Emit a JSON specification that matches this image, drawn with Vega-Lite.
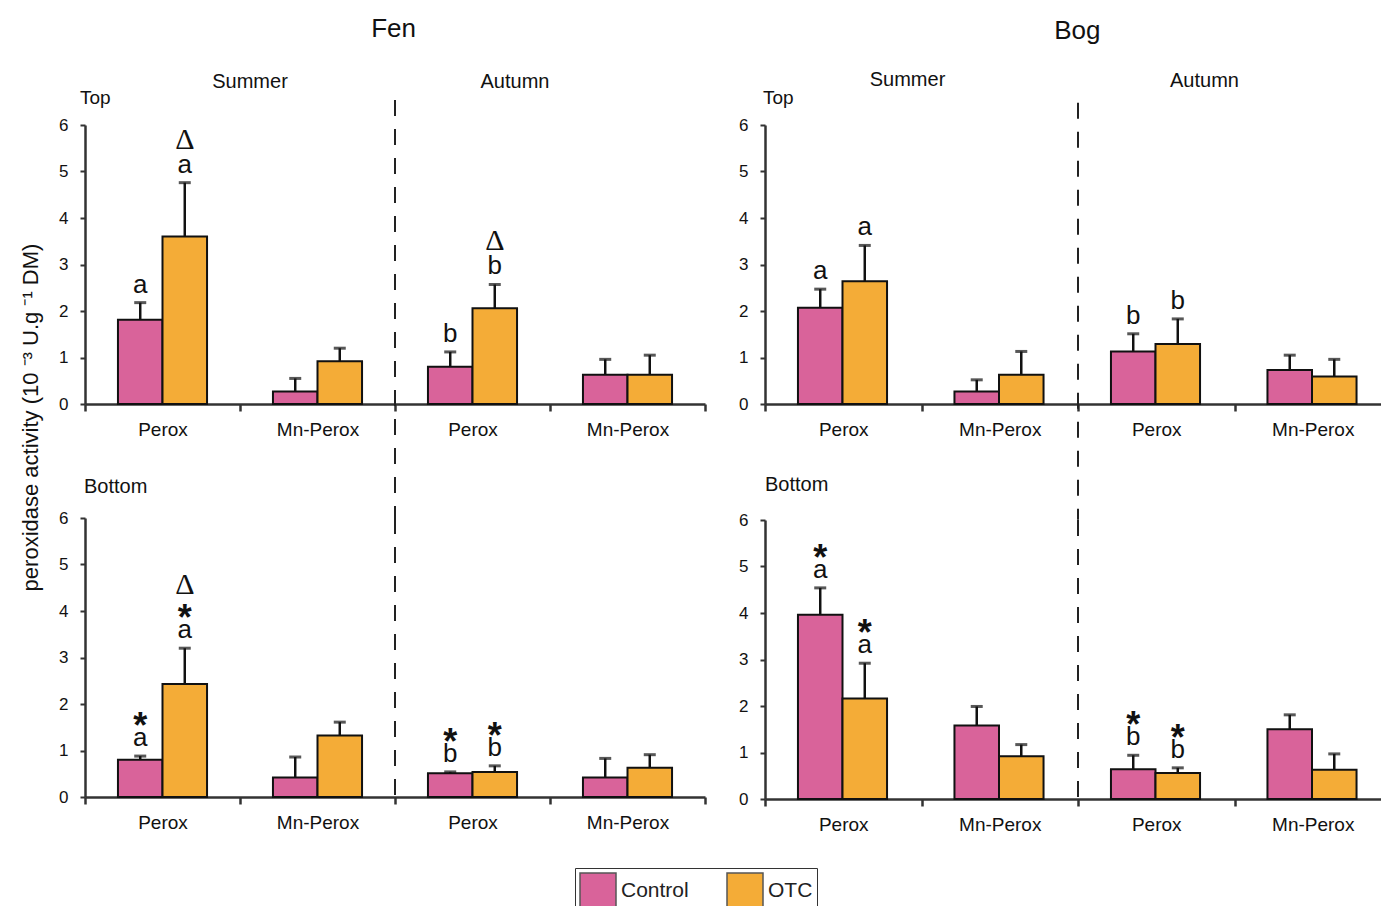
{
  "$schema": "https://vega.github.io/schema/vega-lite/v6.json",
  "padding": {"left": 19, "top": 16, "right": 0, "bottom": 0},
  "background": "white",
  "datasets": {
    "bars": [
      {"site":"Fen","depth":"Top","slot":"Summer|Perox","treatment":"Control","mean":1.81,"upper":2.18,"letter":"a","star":"","delta":""},
      {"site":"Fen","depth":"Top","slot":"Summer|Perox","treatment":"OTC","mean":3.6,"upper":4.76,"letter":"a","star":"","delta":"Δ"},
      {"site":"Fen","depth":"Top","slot":"Summer|Mn-Perox","treatment":"Control","mean":0.27,"upper":0.55,"letter":"","star":"","delta":""},
      {"site":"Fen","depth":"Top","slot":"Summer|Mn-Perox","treatment":"OTC","mean":0.92,"upper":1.2,"letter":"","star":"","delta":""},
      {"site":"Fen","depth":"Top","slot":"Autumn|Perox","treatment":"Control","mean":0.8,"upper":1.12,"letter":"b","star":"","delta":""},
      {"site":"Fen","depth":"Top","slot":"Autumn|Perox","treatment":"OTC","mean":2.06,"upper":2.57,"letter":"b","star":"","delta":"Δ"},
      {"site":"Fen","depth":"Top","slot":"Autumn|Mn-Perox","treatment":"Control","mean":0.63,"upper":0.96,"letter":"","star":"","delta":""},
      {"site":"Fen","depth":"Top","slot":"Autumn|Mn-Perox","treatment":"OTC","mean":0.63,"upper":1.05,"letter":"","star":"","delta":""},
      {"site":"Fen","depth":"Bottom","slot":"Summer|Perox","treatment":"Control","mean":0.8,"upper":0.88,"letter":"a","star":"*","delta":""},
      {"site":"Fen","depth":"Bottom","slot":"Summer|Perox","treatment":"OTC","mean":2.43,"upper":3.2,"letter":"a","star":"*","delta":"Δ"},
      {"site":"Fen","depth":"Bottom","slot":"Summer|Mn-Perox","treatment":"Control","mean":0.42,"upper":0.86,"letter":"","star":"","delta":""},
      {"site":"Fen","depth":"Bottom","slot":"Summer|Mn-Perox","treatment":"OTC","mean":1.32,"upper":1.61,"letter":"","star":"","delta":""},
      {"site":"Fen","depth":"Bottom","slot":"Autumn|Perox","treatment":"Control","mean":0.51,"upper":0.54,"letter":"b","star":"*","delta":""},
      {"site":"Fen","depth":"Bottom","slot":"Autumn|Perox","treatment":"OTC","mean":0.54,"upper":0.67,"letter":"b","star":"*","delta":""},
      {"site":"Fen","depth":"Bottom","slot":"Autumn|Mn-Perox","treatment":"Control","mean":0.42,"upper":0.83,"letter":"","star":"","delta":""},
      {"site":"Fen","depth":"Bottom","slot":"Autumn|Mn-Perox","treatment":"OTC","mean":0.63,"upper":0.91,"letter":"","star":"","delta":""},
      {"site":"Bog","depth":"Top","slot":"Summer|Perox","treatment":"Control","mean":2.07,"upper":2.47,"letter":"a","star":"","delta":""},
      {"site":"Bog","depth":"Top","slot":"Summer|Perox","treatment":"OTC","mean":2.64,"upper":3.41,"letter":"a","star":"","delta":""},
      {"site":"Bog","depth":"Top","slot":"Summer|Mn-Perox","treatment":"Control","mean":0.27,"upper":0.52,"letter":"","star":"","delta":""},
      {"site":"Bog","depth":"Top","slot":"Summer|Mn-Perox","treatment":"OTC","mean":0.63,"upper":1.13,"letter":"","star":"","delta":""},
      {"site":"Bog","depth":"Top","slot":"Autumn|Perox","treatment":"Control","mean":1.13,"upper":1.51,"letter":"b","star":"","delta":""},
      {"site":"Bog","depth":"Top","slot":"Autumn|Perox","treatment":"OTC","mean":1.29,"upper":1.83,"letter":"b","star":"","delta":""},
      {"site":"Bog","depth":"Top","slot":"Autumn|Mn-Perox","treatment":"Control","mean":0.73,"upper":1.05,"letter":"","star":"","delta":""},
      {"site":"Bog","depth":"Top","slot":"Autumn|Mn-Perox","treatment":"OTC","mean":0.59,"upper":0.96,"letter":"","star":"","delta":""},
      {"site":"Bog","depth":"Bottom","slot":"Summer|Perox","treatment":"Control","mean":3.96,"upper":4.54,"letter":"a","star":"*","delta":""},
      {"site":"Bog","depth":"Bottom","slot":"Summer|Perox","treatment":"OTC","mean":2.16,"upper":2.92,"letter":"a","star":"*","delta":""},
      {"site":"Bog","depth":"Bottom","slot":"Summer|Mn-Perox","treatment":"Control","mean":1.58,"upper":1.99,"letter":"","star":"","delta":""},
      {"site":"Bog","depth":"Bottom","slot":"Summer|Mn-Perox","treatment":"OTC","mean":0.92,"upper":1.17,"letter":"","star":"","delta":""},
      {"site":"Bog","depth":"Bottom","slot":"Autumn|Perox","treatment":"Control","mean":0.64,"upper":0.94,"letter":"b","star":"*","delta":""},
      {"site":"Bog","depth":"Bottom","slot":"Autumn|Perox","treatment":"OTC","mean":0.56,"upper":0.67,"letter":"b","star":"*","delta":""},
      {"site":"Bog","depth":"Bottom","slot":"Autumn|Mn-Perox","treatment":"Control","mean":1.5,"upper":1.81,"letter":"","star":"","delta":""},
      {"site":"Bog","depth":"Bottom","slot":"Autumn|Mn-Perox","treatment":"OTC","mean":0.63,"upper":0.97,"letter":"","star":"","delta":""}
    ]
  },
  "hconcat": [
    {
      "title": {"text": "Fen", "fontSize": 26, "offset": 30, "anchor": "middle", "dx": 31},
      "bounds": "flush",
      "spacing": 114,
      "vconcat": [
        {
          "width": 620, "height": 279,
          "data": {"name": "bars"},
          "transform": [{"filter": "datum.site == 'Fen' && datum.depth == 'Top'"}],
          "encoding": {
            "x": {"field": "slot", "type": "nominal", "scale": {"domain": ["Summer|Perox","Summer|Mn-Perox","Autumn|Perox","Autumn|Mn-Perox"], "paddingInner": 0, "paddingOuter": 0}, "axis": {"title": null, "labelExpr": "split(datum.value, '|')[1]", "tickBand": "extent", "labelAngle": 0}},
            "y": {"field": "mean", "type": "quantitative", "scale": {"domain": [0, 6], "nice": false}, "axis": {"values": [0,1,2,3,4,5,6], "title": "peroxidase activity (10 ⁻³ U.g ⁻¹ DM)", "titleX": -55, "titleY": 292, "titleAlign": "center", "titleBaseline": "middle", "titleFontSize": 22, "titleFontWeight": "normal", "titleColor": "#111"}}
          },
          "layer": [
            {"mark": {"type": "bar", "stroke": "#111", "strokeWidth": 2}, "encoding": {"xOffset": {"field": "treatment", "type": "nominal", "scale": {"domain": ["Control","OTC"], "paddingInner": 0, "paddingOuter": 0.74}}, "color": {"field": "treatment", "type": "nominal", "scale": {"domain": ["Control","OTC"], "range": ["#D9639A","#F4AC37"]}, "legend": {"title": null}}}},
            {"mark": {"type": "rule", "strokeWidth": 2.5, "color": "#111"}, "encoding": {"xOffset": {"field": "treatment", "type": "nominal"}, "y2": {"field": "upper"}}},
            {"mark": {"type": "tick", "orient": "horizontal", "size": 12, "thickness": 3, "color": "#111"}, "encoding": {"xOffset": {"field": "treatment", "type": "nominal"}, "y": {"field": "upper", "type": "quantitative"}}},
            {"transform": [{"filter": "datum.letter != ''"}], "mark": {"type": "text", "fontSize": 26, "baseline": "alphabetic", "dy": -10, "color": "#111"}, "encoding": {"xOffset": {"field": "treatment", "type": "nominal"}, "y": {"field": "upper", "type": "quantitative"}, "text": {"field": "letter"}}},
            {"transform": [{"filter": "datum.delta != '' && datum.star == ''"}], "mark": {"type": "text", "font": "Liberation Serif", "fontSize": 30, "baseline": "alphabetic", "dy": -34, "color": "#111"}, "encoding": {"xOffset": {"field": "treatment", "type": "nominal"}, "y": {"field": "upper", "type": "quantitative"}, "text": {"field": "delta"}}},
            {"transform": [{"filter": "datum.slot == 'Summer|Perox' && datum.treatment == 'Control'"}], "mark": {"type": "rule", "strokeDash": [16, 13], "strokeWidth": 2, "color": "#222"}, "encoding": {"x": {"datum": "Autumn|Perox", "type": "nominal", "bandPosition": 0}, "y": {"datum": 6.54, "type": "quantitative"}, "y2": {"datum": -2.45}}},
            {"transform": [{"filter": "datum.slot == 'Summer|Perox' && datum.treatment == 'Control'"}], "mark": {"type": "text", "text": "Top", "fontSize": 19, "align": "left", "baseline": "middle", "dx": -5, "color": "#111"}, "encoding": {"x": {"datum": "Summer|Perox", "type": "nominal", "bandPosition": 0}, "y": {"datum": 6.58, "type": "quantitative"}}},
            {"transform": [{"filter": "datum.slot == 'Summer|Perox' && datum.treatment == 'Control'"}], "mark": {"type": "text", "text": "Summer", "fontSize": 20, "baseline": "middle", "dx": 10, "color": "#111"}, "encoding": {"x": {"datum": "Summer|Mn-Perox", "type": "nominal", "bandPosition": 0}, "y": {"datum": 6.92, "type": "quantitative"}}},
            {"transform": [{"filter": "datum.slot == 'Summer|Perox' && datum.treatment == 'Control'"}], "mark": {"type": "text", "text": "Autumn", "fontSize": 20, "baseline": "middle", "dx": -35, "color": "#111"}, "encoding": {"x": {"datum": "Autumn|Mn-Perox", "type": "nominal", "bandPosition": 0}, "y": {"datum": 6.92, "type": "quantitative"}}}
          ]
        },
        {
          "width": 620, "height": 279,
          "data": {"name": "bars"},
          "transform": [{"filter": "datum.site == 'Fen' && datum.depth == 'Bottom'"}],
          "encoding": {
            "x": {"field": "slot", "type": "nominal", "scale": {"domain": ["Summer|Perox","Summer|Mn-Perox","Autumn|Perox","Autumn|Mn-Perox"], "paddingInner": 0, "paddingOuter": 0}, "axis": {"title": null, "labelExpr": "split(datum.value, '|')[1]", "tickBand": "extent", "labelAngle": 0}},
            "y": {"field": "mean", "type": "quantitative", "scale": {"domain": [0, 6], "nice": false}, "axis": {"values": [0,1,2,3,4,5,6], "title": null}}
          },
          "layer": [
            {"mark": {"type": "bar", "stroke": "#111", "strokeWidth": 2}, "encoding": {"xOffset": {"field": "treatment", "type": "nominal", "scale": {"domain": ["Control","OTC"], "paddingInner": 0, "paddingOuter": 0.74}}, "color": {"field": "treatment", "type": "nominal", "scale": {"domain": ["Control","OTC"], "range": ["#D9639A","#F4AC37"]}, "legend": {"title": null}}}},
            {"mark": {"type": "rule", "strokeWidth": 2.5, "color": "#111"}, "encoding": {"xOffset": {"field": "treatment", "type": "nominal"}, "y2": {"field": "upper"}}},
            {"mark": {"type": "tick", "orient": "horizontal", "size": 12, "thickness": 3, "color": "#111"}, "encoding": {"xOffset": {"field": "treatment", "type": "nominal"}, "y": {"field": "upper", "type": "quantitative"}}},
            {"transform": [{"filter": "datum.letter != ''"}], "mark": {"type": "text", "fontSize": 26, "baseline": "alphabetic", "dy": -10, "color": "#111"}, "encoding": {"xOffset": {"field": "treatment", "type": "nominal"}, "y": {"field": "upper", "type": "quantitative"}, "text": {"field": "letter"}}},
            {"transform": [{"filter": "datum.star != ''"}], "mark": {"type": "text", "fontSize": 36, "fontWeight": "bold", "baseline": "alphabetic", "dy": -18, "color": "#111"}, "encoding": {"xOffset": {"field": "treatment", "type": "nominal"}, "y": {"field": "upper", "type": "quantitative"}, "text": {"field": "star"}}},
            {"transform": [{"filter": "datum.delta != '' && datum.star != ''"}], "mark": {"type": "text", "font": "Liberation Serif", "fontSize": 30, "baseline": "alphabetic", "dy": -54, "color": "#111"}, "encoding": {"xOffset": {"field": "treatment", "type": "nominal"}, "y": {"field": "upper", "type": "quantitative"}, "text": {"field": "delta"}}},
            {"transform": [{"filter": "datum.slot == 'Summer|Perox' && datum.treatment == 'Control'"}], "mark": {"type": "rule", "strokeDash": [16, 13], "strokeWidth": 2, "color": "#222"}, "encoding": {"x": {"datum": "Autumn|Perox", "type": "nominal", "bandPosition": 0}, "y": {"datum": 6, "type": "quantitative"}, "y2": {"datum": -0.2}}},
            {"transform": [{"filter": "datum.slot == 'Summer|Perox' && datum.treatment == 'Control'"}], "mark": {"type": "text", "text": "Bottom", "fontSize": 20, "align": "left", "baseline": "middle", "dx": -1, "color": "#111"}, "encoding": {"x": {"datum": "Summer|Perox", "type": "nominal", "bandPosition": 0}, "y": {"datum": 6.66, "type": "quantitative"}}}
          ]
        }
      ]
    },
    {
      "title": {"text": "Bog", "fontSize": 26, "offset": 26, "anchor": "middle", "dx": 12},
      "bounds": "flush",
      "spacing": 116,
      "vconcat": [
        {
          "width": 626, "height": 279,
          "data": {"name": "bars"},
          "transform": [{"filter": "datum.site == 'Bog' && datum.depth == 'Top'"}],
          "encoding": {
            "x": {"field": "slot", "type": "nominal", "scale": {"domain": ["Summer|Perox","Summer|Mn-Perox","Autumn|Perox","Autumn|Mn-Perox"], "paddingInner": 0, "paddingOuter": 0}, "axis": {"title": null, "labelExpr": "split(datum.value, '|')[1]", "tickBand": "extent", "labelAngle": 0}},
            "y": {"field": "mean", "type": "quantitative", "scale": {"domain": [0, 6], "nice": false}, "axis": {"values": [0,1,2,3,4,5,6], "title": null}}
          },
          "layer": [
            {"mark": {"type": "bar", "stroke": "#111", "strokeWidth": 2}, "encoding": {"xOffset": {"field": "treatment", "type": "nominal", "scale": {"domain": ["Control","OTC"], "paddingInner": 0, "paddingOuter": 0.74}}, "color": {"field": "treatment", "type": "nominal", "scale": {"domain": ["Control","OTC"], "range": ["#D9639A","#F4AC37"]}, "legend": {"title": null}}}},
            {"mark": {"type": "rule", "strokeWidth": 2.5, "color": "#111"}, "encoding": {"xOffset": {"field": "treatment", "type": "nominal"}, "y2": {"field": "upper"}}},
            {"mark": {"type": "tick", "orient": "horizontal", "size": 12, "thickness": 3, "color": "#111"}, "encoding": {"xOffset": {"field": "treatment", "type": "nominal"}, "y": {"field": "upper", "type": "quantitative"}}},
            {"transform": [{"filter": "datum.letter != ''"}], "mark": {"type": "text", "fontSize": 26, "baseline": "alphabetic", "dy": -10, "color": "#111"}, "encoding": {"xOffset": {"field": "treatment", "type": "nominal"}, "y": {"field": "upper", "type": "quantitative"}, "text": {"field": "letter"}}},
            {"transform": [{"filter": "datum.slot == 'Summer|Perox' && datum.treatment == 'Control'"}], "mark": {"type": "rule", "strokeDash": [16, 13], "strokeWidth": 2, "color": "#222"}, "encoding": {"x": {"datum": "Autumn|Perox", "type": "nominal", "bandPosition": 0}, "y": {"datum": 6.48, "type": "quantitative"}, "y2": {"datum": -2.49}}},
            {"transform": [{"filter": "datum.slot == 'Summer|Perox' && datum.treatment == 'Control'"}], "mark": {"type": "text", "text": "Top", "fontSize": 19, "align": "left", "baseline": "middle", "dx": -2, "color": "#111"}, "encoding": {"x": {"datum": "Summer|Perox", "type": "nominal", "bandPosition": 0}, "y": {"datum": 6.58, "type": "quantitative"}}},
            {"transform": [{"filter": "datum.slot == 'Summer|Perox' && datum.treatment == 'Control'"}], "mark": {"type": "text", "text": "Summer", "fontSize": 20, "baseline": "middle", "dx": -14, "color": "#111"}, "encoding": {"x": {"datum": "Summer|Mn-Perox", "type": "nominal", "bandPosition": 0}, "y": {"datum": 6.96, "type": "quantitative"}}},
            {"transform": [{"filter": "datum.slot == 'Summer|Perox' && datum.treatment == 'Control'"}], "mark": {"type": "text", "text": "Autumn", "fontSize": 20, "baseline": "middle", "dx": -30, "color": "#111"}, "encoding": {"x": {"datum": "Autumn|Mn-Perox", "type": "nominal", "bandPosition": 0}, "y": {"datum": 6.94, "type": "quantitative"}}}
          ]
        },
        {
          "width": 626, "height": 279,
          "data": {"name": "bars"},
          "transform": [{"filter": "datum.site == 'Bog' && datum.depth == 'Bottom'"}],
          "encoding": {
            "x": {"field": "slot", "type": "nominal", "scale": {"domain": ["Summer|Perox","Summer|Mn-Perox","Autumn|Perox","Autumn|Mn-Perox"], "paddingInner": 0, "paddingOuter": 0}, "axis": {"title": null, "labelExpr": "split(datum.value, '|')[1]", "tickBand": "extent", "labelAngle": 0}},
            "y": {"field": "mean", "type": "quantitative", "scale": {"domain": [0, 6], "nice": false}, "axis": {"values": [0,1,2,3,4,5,6], "title": null}}
          },
          "layer": [
            {"mark": {"type": "bar", "stroke": "#111", "strokeWidth": 2}, "encoding": {"xOffset": {"field": "treatment", "type": "nominal", "scale": {"domain": ["Control","OTC"], "paddingInner": 0, "paddingOuter": 0.74}}, "color": {"field": "treatment", "type": "nominal", "scale": {"domain": ["Control","OTC"], "range": ["#D9639A","#F4AC37"]}, "legend": {"title": null}}}},
            {"mark": {"type": "rule", "strokeWidth": 2.5, "color": "#111"}, "encoding": {"xOffset": {"field": "treatment", "type": "nominal"}, "y2": {"field": "upper"}}},
            {"mark": {"type": "tick", "orient": "horizontal", "size": 12, "thickness": 3, "color": "#111"}, "encoding": {"xOffset": {"field": "treatment", "type": "nominal"}, "y": {"field": "upper", "type": "quantitative"}}},
            {"transform": [{"filter": "datum.letter != ''"}], "mark": {"type": "text", "fontSize": 26, "baseline": "alphabetic", "dy": -10, "color": "#111"}, "encoding": {"xOffset": {"field": "treatment", "type": "nominal"}, "y": {"field": "upper", "type": "quantitative"}, "text": {"field": "letter"}}},
            {"transform": [{"filter": "datum.star != ''"}], "mark": {"type": "text", "fontSize": 36, "fontWeight": "bold", "baseline": "alphabetic", "dy": -18, "color": "#111"}, "encoding": {"xOffset": {"field": "treatment", "type": "nominal"}, "y": {"field": "upper", "type": "quantitative"}, "text": {"field": "star"}}},
            {"transform": [{"filter": "datum.slot == 'Summer|Perox' && datum.treatment == 'Control'"}], "mark": {"type": "rule", "strokeDash": [16, 13], "strokeWidth": 2, "color": "#222"}, "encoding": {"x": {"datum": "Autumn|Perox", "type": "nominal", "bandPosition": 0}, "y": {"datum": 6, "type": "quantitative"}, "y2": {"datum": -0.2}}},
            {"transform": [{"filter": "datum.slot == 'Summer|Perox' && datum.treatment == 'Control'"}], "mark": {"type": "text", "text": "Bottom", "fontSize": 20, "align": "left", "baseline": "middle", "dx": 0, "color": "#111"}, "encoding": {"x": {"datum": "Summer|Perox", "type": "nominal", "bandPosition": 0}, "y": {"datum": 6.75, "type": "quantitative"}}}
          ]
        }
      ]
    }
  ],
  "spacing": 31,
  "config": {
    "font": "Liberation Sans",
    "view": {"stroke": null},
    "axis": {"grid": false, "domainColor": "#333", "tickColor": "#333", "labelColor": "#111", "labelFont": "Liberation Sans"},
    "axisX": {"domainWidth": 2.5, "tickWidth": 2.5, "tickSize": 7, "labelFontSize": 19, "labelPadding": 9},
    "axisY": {"domainWidth": 2.5, "tickWidth": 2, "tickSize": 5, "labelFontSize": 17, "labelPadding": 12},
    "title": {"fontWeight": "normal", "color": "#111", "font": "Liberation Sans"},
    "legend": {"orient": "none", "legendX": 490, "legendY": 743, "direction": "horizontal", "symbolType": "square", "symbolSize": 1296, "symbolStrokeColor": "#555", "symbolStrokeWidth": 1.5, "symbolOpacity": 1, "labelFontSize": 21, "labelOffset": 4, "columnPadding": 35, "strokeColor": "#333", "padding": 4, "labelColor": "#222", "labelFont": "Liberation Sans"}
  }
}
